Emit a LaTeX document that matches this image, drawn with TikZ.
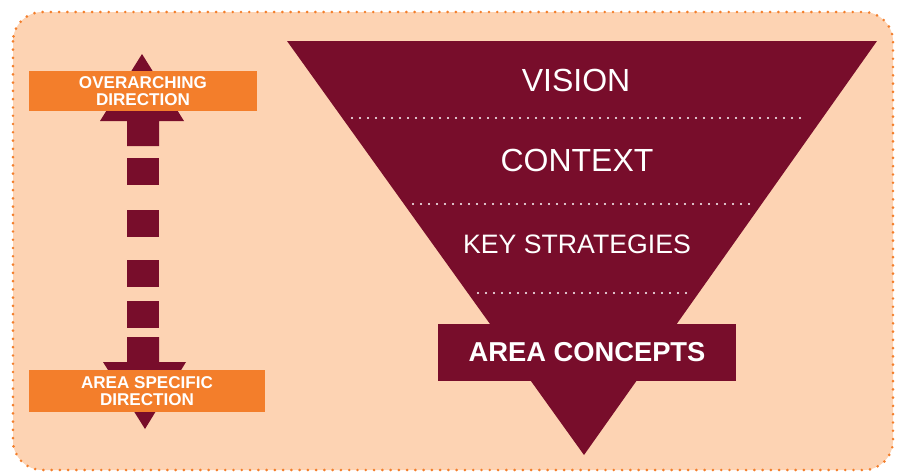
\documentclass[tikz,border=0pt]{standalone}
\usepackage{fontspec}
\setmainfont{Liberation Sans}
\usepackage{tikz}
\usetikzlibrary{positioning}

\definecolor{peach}{HTML}{FDD3B3}
\definecolor{maroon}{HTML}{780D2B}
\definecolor{tangerine}{HTML}{F37E2B}

\tikzset{
  labelbox/.style={fill=tangerine, text=white, inner sep=0, align=center,
    font=\bfseries\fontsize{12.8}{13}\selectfont},
  layertext/.style={text=white, inner sep=0},
  dotline/.style={white, line width=1.7pt, line cap=round, dash pattern=on 0pt off 6pt}
}

\begin{document}
\begin{tikzpicture}[x=0.75pt,y=-0.75pt]
  \useasboundingbox (0,0) rectangle (899,472);

  % background panel
  \draw [tangerine, fill=peach, line width=2.2pt, line cap=round,
    dash pattern=on 0pt off 6.2pt, rounded corners=22pt] (13,12) rectangle (893,470);

  % funnel
  \coordinate (tl) at (287,41);
  \coordinate (tr) at (877,41);
  \coordinate (tip) at (584,455);
  \fill [maroon] (tl) -- (tr) -- (tip) -- cycle;

  \draw [dotline] (352,118) -- (807,118);
  \draw [dotline] (413,204) -- (752,204);
  \draw [dotline] (478,293) -- (688,293);

  \node [layertext, font=\fontsize{24}{26}\selectfont] (vision) at (576,80) {VISION};
  \node [layertext, font=\fontsize{24}{26}\selectfont] (context) at (577,160) {CONTEXT};
  \node [layertext, font=\fontsize{20}{22}\selectfont] (strategies) at (577,244) {KEY STRATEGIES};
  \node [fill=maroon, text=white, inner sep=0, minimum width=223.5pt, minimum height=42.75pt,
    font=\bfseries\fontsize{20.5}{22}\selectfont] (concepts) at (587,352.5) {AREA CONCEPTS};

  % direction arrow
  \fill [maroon] (142,54) -- (184,121) -- (159,121) -- (159,146) -- (127,146)
    -- (127,121) -- (100,121) -- cycle;
  \foreach \y in {158,210,260,301}
    \fill [maroon] (127,\y) rectangle (159,\y+27);
  \fill [maroon] (127,337) -- (159,337) -- (159,362) -- (186,362) -- (145,429)
    -- (103,362) -- (127,362) -- cycle;

  \node [labelbox, minimum width=171pt, minimum height=30pt] (over) at (143,91)
    {OVERARCHING\\DIRECTION};
  \node [labelbox, minimum width=177pt, minimum height=31.5pt] (specific) at (147,391)
    {AREA SPECIFIC\\DIRECTION};
\end{tikzpicture}
\end{document}
